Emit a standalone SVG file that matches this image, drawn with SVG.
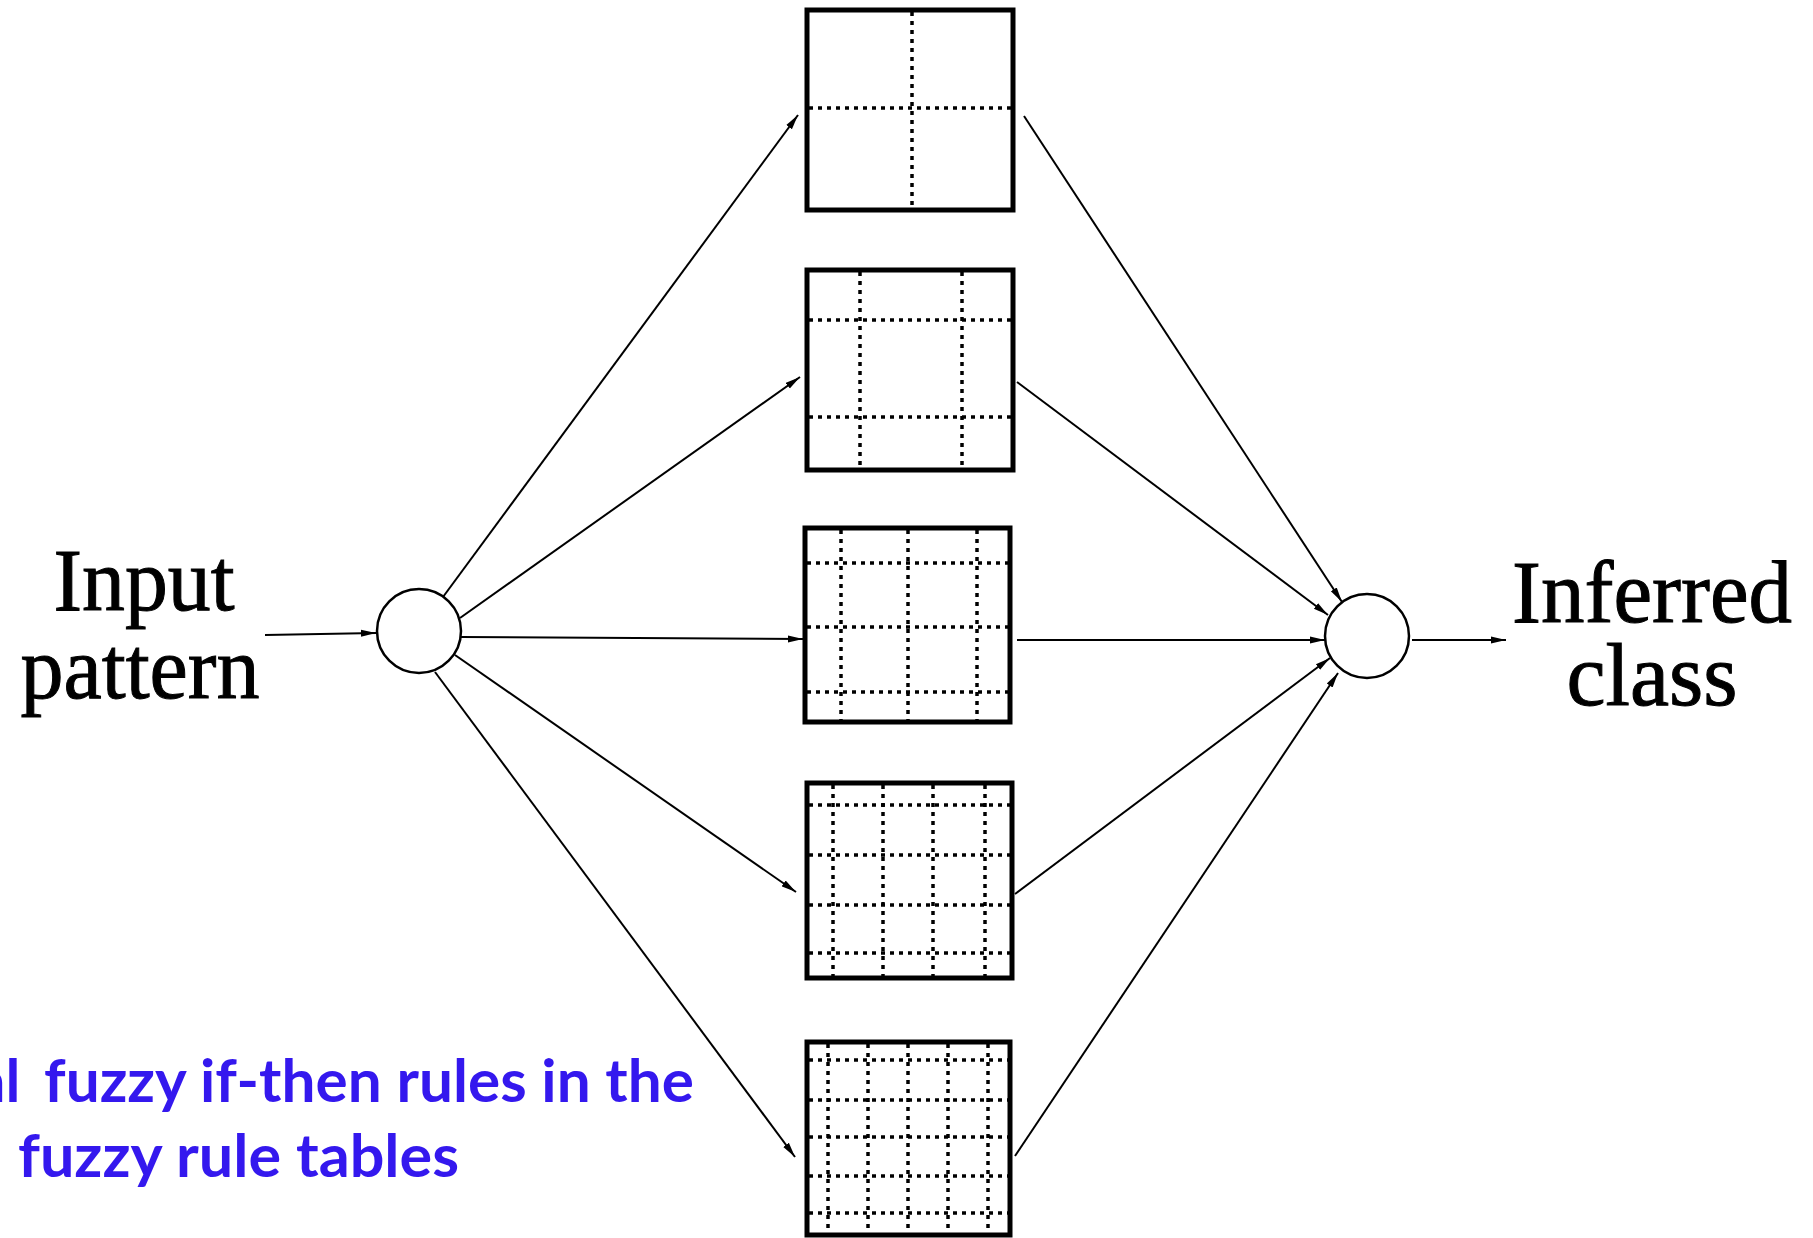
<svg xmlns="http://www.w3.org/2000/svg" width="1813" height="1238" viewBox="0 0 1813 1238">
<style>
.box{fill:#fff;stroke:#000;stroke-width:5}
.grid{stroke:#000;stroke-width:3.5;stroke-dasharray:4 5;fill:none}
.node{fill:#fff;stroke:#000;stroke-width:2.5}
.conn{stroke:#000;stroke-width:2;fill:none;marker-end:url(#ah)}
.lbl{font-family:"Liberation Serif","Times New Roman",serif;font-size:88px;fill:#000;stroke:#000;stroke-width:1}
.blue{font-family:Lato,"Open Sans",sans-serif;font-weight:bold;font-size:60px;fill:#3418ee}
</style>
<defs>
<marker id="ah" markerUnits="userSpaceOnUse" markerWidth="16" markerHeight="9" refX="15" refY="4.5" orient="auto">
<path d="M0,1 L15,4.5 L0,8 z" fill="#000"/>
</marker>
</defs>
<rect width="1813" height="1238" fill="#fff"/>
<g id="connectors">
<line class="conn" x1="265" y1="635" x2="376" y2="633"/>
<line class="conn" x1="443" y1="597" x2="798" y2="115"/>
<line class="conn" x1="460" y1="618" x2="800" y2="377"/>
<line class="conn" x1="461" y1="637" x2="803" y2="639"/>
<line class="conn" x1="455" y1="655" x2="796" y2="892"/>
<line class="conn" x1="435" y1="672" x2="795" y2="1157"/>
<line class="conn" x1="1024" y1="116" x2="1342" y2="602"/>
<line class="conn" x1="1017" y1="382" x2="1328" y2="615"/>
<line class="conn" x1="1017" y1="640" x2="1325" y2="640"/>
<line class="conn" x1="1015" y1="894" x2="1330" y2="658"/>
<line class="conn" x1="1015" y1="1156" x2="1338" y2="673"/>
<line class="conn" x1="1412" y1="640" x2="1506" y2="640"/>
</g>
<g id="input-node"><circle class="node" cx="419" cy="631" r="42"/></g>
<g id="output-node"><circle class="node" cx="1367" cy="636" r="42"/></g>
<g id="table1">
<rect class="box" x="807" y="10" width="206" height="200"/>
<path class="grid" d="M912,12V208M809,108H1011"/>
</g>
<g id="table2">
<rect class="box" x="807" y="270" width="206" height="200"/>
<path class="grid" d="M860,272V468M962,272V468M809,320H1011M809,417H1011"/>
</g>
<g id="table3">
<rect class="box" x="805" y="528" width="205" height="194"/>
<path class="grid" d="M841,530V720M908,530V720M977,530V720M807,563H1008M807,627H1008M807,692H1008"/>
</g>
<g id="table4">
<rect class="box" x="807" y="783" width="205" height="195"/>
<path class="grid" d="M833,785V976M883,785V976M933,785V976M985,785V976M809,805H1010M809,855H1010M809,905H1010M809,953H1010"/>
</g>
<g id="table5">
<rect class="box" x="807" y="1042" width="203" height="193"/>
<path class="grid" d="M828,1044V1233M868,1044V1233M908,1044V1233M948,1044V1233M988,1044V1233M809,1060H1008M809,1100H1008M809,1137H1008M809,1176H1008M809,1213H1008"/>
</g>
<g id="labels">
<text class="lbl" x="144" y="610" text-anchor="middle" textLength="181" lengthAdjust="spacingAndGlyphs">Input</text>
<text class="lbl" x="140" y="698" text-anchor="middle" textLength="239" lengthAdjust="spacingAndGlyphs">pattern</text>
<text class="lbl" x="1652" y="622" text-anchor="middle" textLength="280" lengthAdjust="spacingAndGlyphs">Inferred</text>
<text class="lbl" x="1652" y="705" text-anchor="middle" textLength="171" lengthAdjust="spacingAndGlyphs">class</text>
</g>
<g id="note">
<text class="blue" x="-25" y="1102">al <tspan x="44" textLength="650" lengthAdjust="spacingAndGlyphs">fuzzy if-then rules in the</tspan></text>
<text class="blue" x="18" y="1177" textLength="441" lengthAdjust="spacingAndGlyphs">fuzzy rule tables</text>
</g>
</svg>
